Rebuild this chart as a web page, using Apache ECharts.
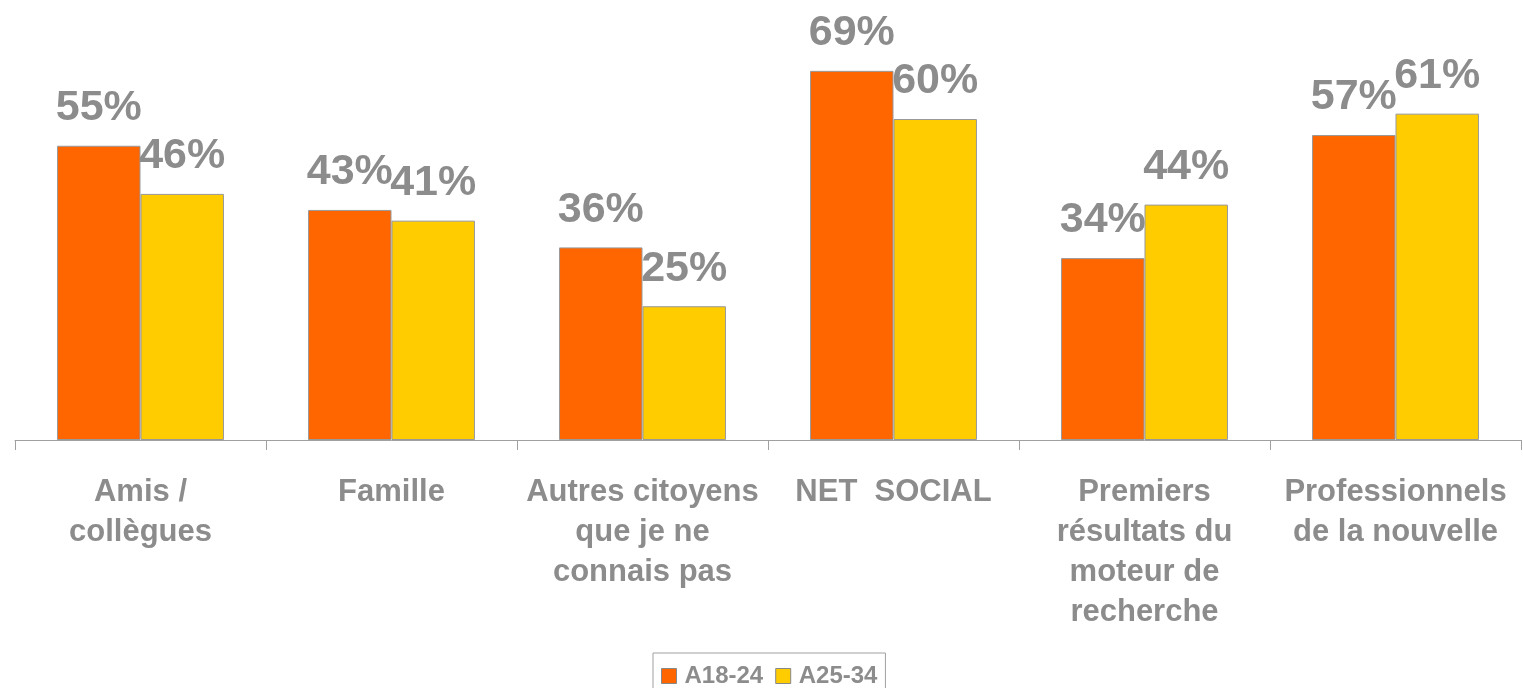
<!DOCTYPE html>
<html>
<head>
<meta charset="utf-8">
<title>Sources</title>
<script src="https://cdn.jsdelivr.net/npm/echarts@6/dist/echarts.min.js"></script>
<style>
	html, body { margin: 0; padding: 0; background: #fff; }
	#chart { width: 1523px; height: 688px; }
</style>
</head>
<body>
<div id="chart"></div>
<script>
	// categories and values
	var categories = ['Amis /\ncollègues', 'Famille', 'Autres citoyens\nque je ne\nconnais pas', 'NET  SOCIAL', 'Premiers\nrésultats du\nmoteur de\nrecherche', 'Professionnels\nde la nouvelle'];
	var seriesNames = ['A18-24', 'A25-34'];
	var a1824 = [55, 43, 36, 69, 34, 57];
	var a2534 = [46, 41, 25, 60, 44, 61];

	var font = 'Arial, "Liberation Sans", sans-serif';
	var grey = '#8c8c8c';

	var chart = echarts.init(document.getElementById('chart'));

	function barLabel() {
		return {
			show: true,
			position: 'top',
			distance: 16,
			formatter: '{c}%',
			fontFamily: font,
			fontSize: 43,
			fontWeight: 'bold',
			color: grey
		};
	}

	var option = {
		animation: false,
		grid: { left: 15, right: 2, top: 12, bottom: 248, containLabel: false },
		legend: {
			data: seriesNames,
			left: 653,
			top: 653,
			padding: [11, 8, 8, 8],
			borderColor: '#a0a0a0',
			borderWidth: 1,
			itemWidth: 15,
			itemHeight: 15,
			itemGap: 12,
			icon: 'rect',
			itemStyle: { borderColor: '#888', borderWidth: 1 },
			textStyle: { fontFamily: font, fontSize: 24, fontWeight: 'bold', color: grey, padding: [0, 0, 0, 3] }
		},
		xAxis: {
			type: 'category',
			data: categories,
			axisLine: { lineStyle: { color: '#a0a0a0', width: 1 } },
			axisTick: { show: true, length: 10, lineStyle: { color: '#a0a0a0', width: 1 } },
			axisLabel: {
				interval: 0,
				margin: 32,
				fontFamily: font,
				fontSize: 31,
				fontWeight: 'bold',
				lineHeight: 40,
				color: grey
			}
		},
		yAxis: {
			type: 'value',
			min: 0,
			max: 80,
			show: false,
			splitLine: { show: false }
		},
		series: [
			{
				name: seriesNames[0],
				type: 'bar',
				data: a1824,
				barGap: 0,
				barCategoryGap: '33.5%',
				itemStyle: { color: '#ff6600', borderColor: '#999', borderWidth: 1 },
				label: barLabel()
			},
			{
				name: seriesNames[1],
				type: 'bar',
				data: a2534,
				barGap: 0,
				barCategoryGap: '33.5%',
				itemStyle: { color: '#ffcc00', borderColor: '#999', borderWidth: 1 },
				label: barLabel()
			}
		]
	};

	chart.setOption(option);
</script>
</body>
</html>
